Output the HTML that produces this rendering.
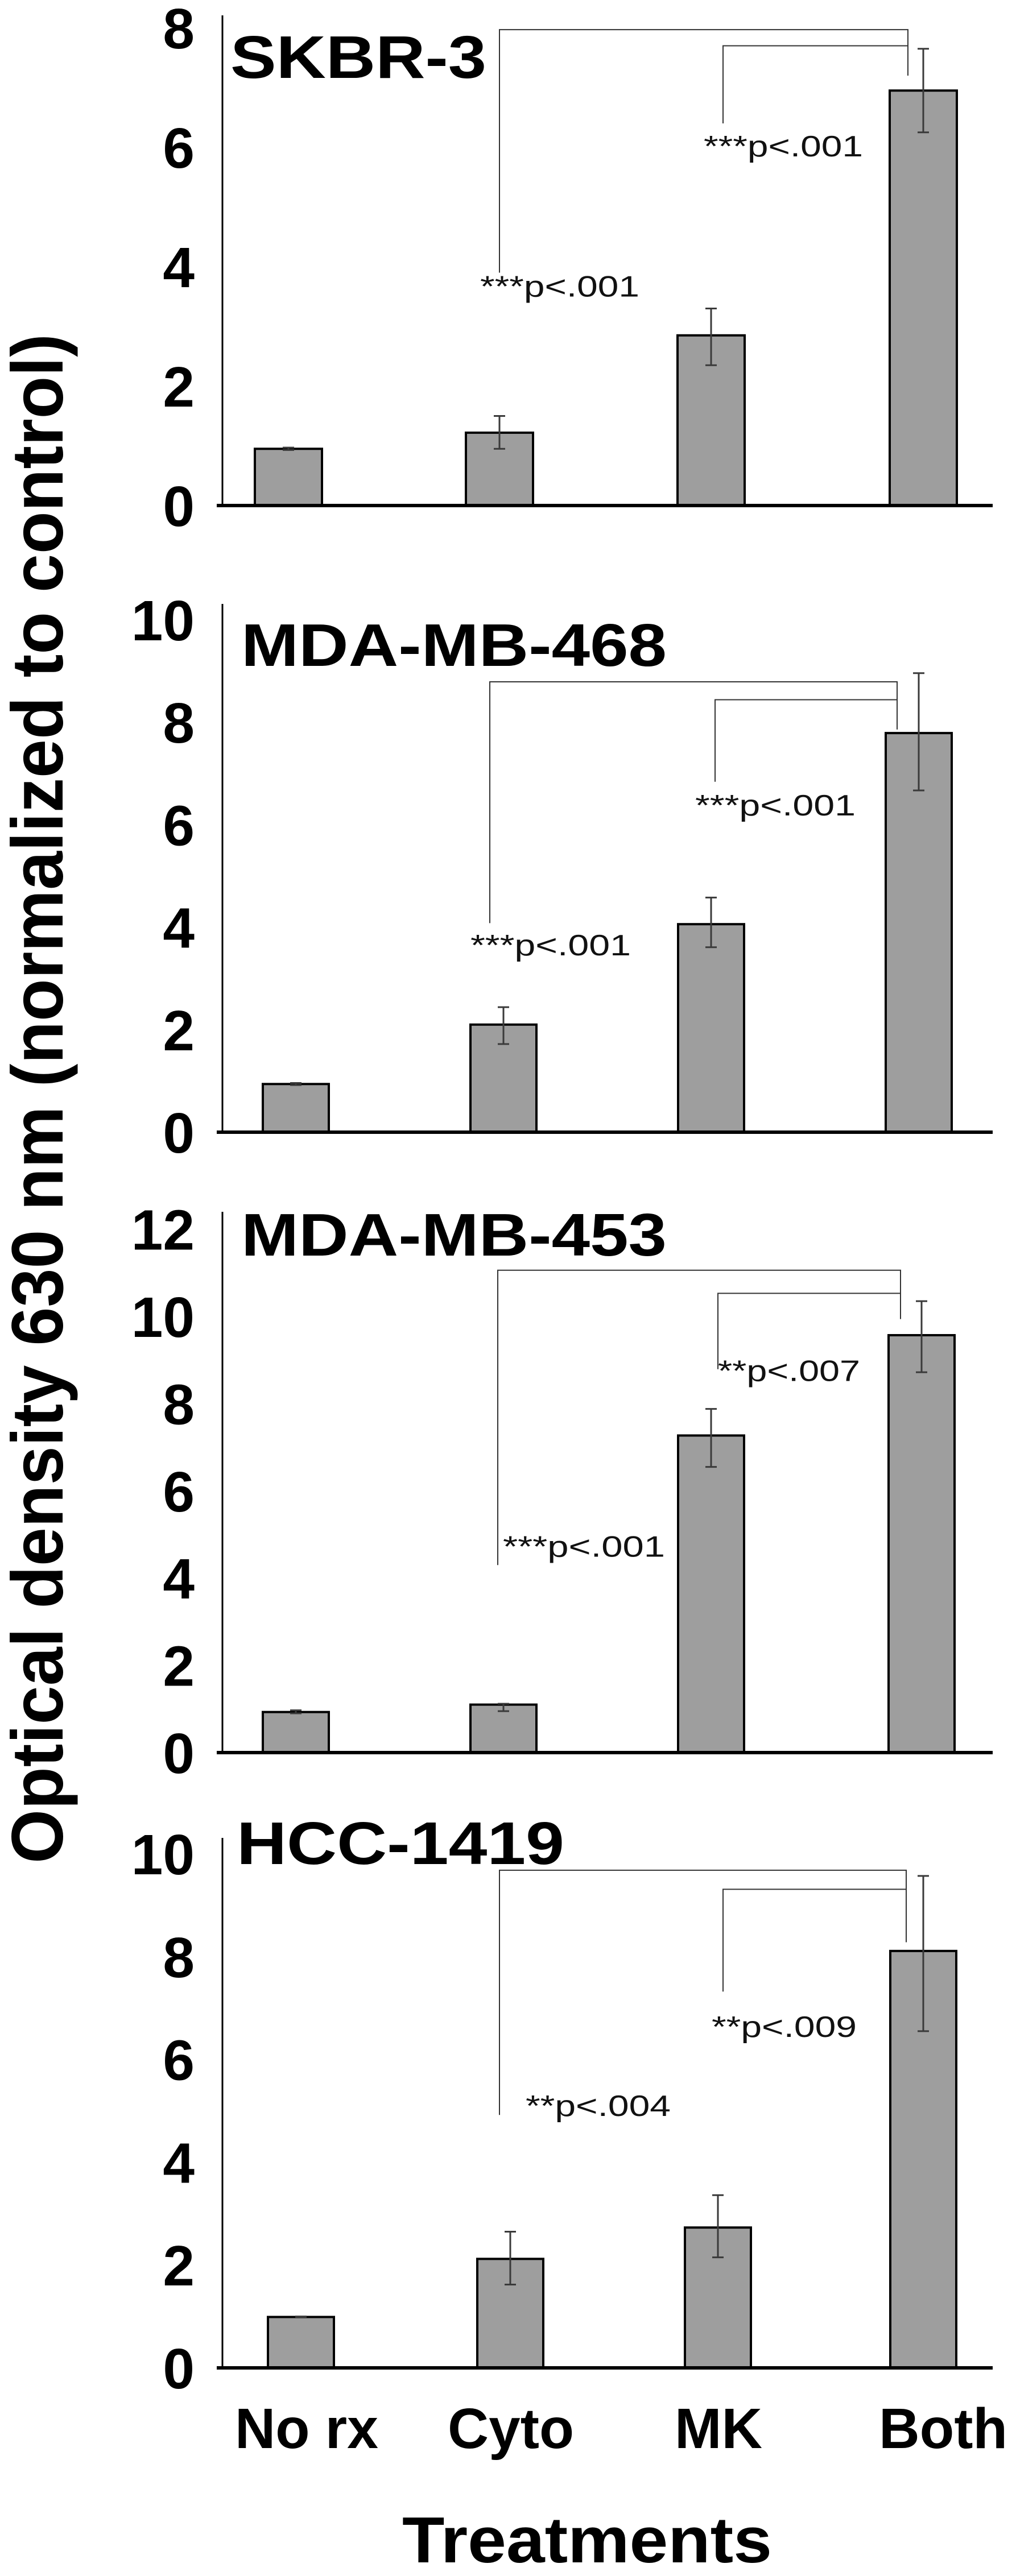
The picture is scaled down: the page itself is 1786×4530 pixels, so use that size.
<!DOCTYPE html>
<html><head><meta charset="utf-8">
<style>
html,body{margin:0;padding:0;background:#fff;}
svg{display:block;}
text{font-family:"Liberation Sans",Arial,sans-serif;}
</style></head>
<body>
<svg id="fig" width="1786" height="4530" viewBox="0 0 1786 4530" xmlns="http://www.w3.org/2000/svg">
<text transform="translate(110,1932) rotate(-90)" text-anchor="middle" font-size="128" font-weight="bold" textLength="2690" lengthAdjust="spacingAndGlyphs">Optical density 630 nm (normalized to control)</text>
<text x="1032" y="4506" text-anchor="middle" font-size="114" font-weight="bold" textLength="650" lengthAdjust="spacingAndGlyphs">Treatments</text>
<text x="539" y="4305" text-anchor="middle" font-size="100" font-weight="bold" textLength="252" lengthAdjust="spacingAndGlyphs">No rx</text>
<text x="898" y="4305" text-anchor="middle" font-size="100" font-weight="bold" textLength="222" lengthAdjust="spacingAndGlyphs">Cyto</text>
<text x="1263" y="4305" text-anchor="middle" font-size="100" font-weight="bold" textLength="154" lengthAdjust="spacingAndGlyphs">MK</text>
<text x="1658" y="4305" text-anchor="middle" font-size="100" font-weight="bold" textLength="226" lengthAdjust="spacingAndGlyphs">Both</text>
</svg>
<script>
// Data
const categories = ["No rx", "Cyto", "MK", "Both"];
const panelNames = ["SKBR-3", "MDA-MB-468", "MDA-MB-453", "HCC-1419"];
const skbr3Means = [0.95, 1.22, 2.85, 6.95];
const skbr3Upper = [0.97, 1.5, 3.3, 7.65];
const skbr3Lower = [0.93, 0.95, 2.35, 6.25];
const mda468Means = [0.94, 2.1, 4.06, 7.79];
const mda468Upper = [0.96, 2.44, 4.58, 8.96];
const mda468Lower = [0.92, 1.72, 3.61, 6.67];
const mda453Means = [0.93, 1.1, 7.27, 9.57];
const mda453Upper = [0.97, 1.12, 7.88, 10.35];
const mda453Lower = [0.9, 0.95, 6.55, 8.72];
const hccMeans = [0.99, 2.12, 2.73, 8.11];
const hccUpper = [1.0, 2.65, 3.36, 9.57];
const hccLower = [0.98, 1.62, 2.15, 6.55];
const skbr3Ticks = [0, 2, 4, 6, 8];
const mda468Ticks = [0, 2, 4, 6, 8, 10];
const mda453Ticks = [0, 2, 4, 6, 8, 10, 12];
const hccTicks = [0, 2, 4, 6, 8, 10];
const skbr3PValues = ["***p<.001", "***p<.001"];
const mda468PValues = ["***p<.001", "***p<.001"];
const mda453PValues = ["***p<.001", "**p<.007"];
const hccPValues = ["**p<.004", "**p<.009"];

// Layout (pixels)
const NS = "http://www.w3.org/2000/svg";
const svg = document.getElementById("fig");
const panels = [
  {slug:"skbr3", name:panelNames[0], means:skbr3Means, up:skbr3Upper, lo:skbr3Lower, ticks:skbr3Ticks, pv:skbr3PValues,
   base:889, ppu:105, top:27, xs:[507,878,1250,1623], bw:118, titleX:405, titleY:137, titleW:450,
   br:{longY:7.97, longL:3.9, longR:7.2, shortY:7.7, shortL:6.4, lx:878, sx:1271, rx:1596},
   txt:[{x:844,v:3.5,w:280},{x:1237,v:5.85,w:280}]},
  {slug:"mda468", name:panelNames[1], means:mda468Means, up:mda468Upper, lo:mda468Lower, ticks:mda468Ticks, pv:mda468PValues,
   base:1991, ppu:90.1, top:1062, xs:[520,885,1250,1615], bw:116, titleX:424, titleY:1171, titleW:748,
   br:{longY:8.79, longL:4.08, longR:7.86, shortY:8.44, shortL:6.84, lx:861, sx:1257, rx:1577},
   txt:[{x:827,v:3.45,w:282},{x:1222,v:6.18,w:282}]},
  {slug:"mda453", name:panelNames[2], means:mda453Means, up:mda453Upper, lo:mda453Lower, ticks:mda453Ticks, pv:mda453PValues,
   base:3082, ppu:76.7, top:2131, xs:[520,885,1250,1620], bw:116, titleX:424, titleY:2208, titleW:748,
   br:{longY:11.06, longL:4.3, longR:9.94, shortY:10.53, shortL:8.79, lx:875, sx:1262, rx:1583},
   txt:[{x:884,v:4.49,w:285},{x:1262,v:8.52,w:250}]},
  {slug:"hcc1419", name:panelNames[3], means:hccMeans, up:hccUpper, lo:hccLower, ticks:hccTicks, pv:hccPValues,
   base:4164, ppu:90.4, top:3232, xs:[529,897,1262,1623], bw:116, titleX:416, titleY:3278, titleW:576,
   br:{longY:9.68, longL:4.92, longR:8.28, shortY:9.31, shortL:7.32, lx:878, sx:1271, rx:1593},
   txt:[{x:924,v:4.9,w:255},{x:1251,v:6.44,w:255}]}
];
const AXIS_X = 391, AXIS_END = 1745;

function mk(tag, attrs){ const e=document.createElementNS(NS,tag); for(const k in attrs) e.setAttribute(k,attrs[k]); return e; }

panels.forEach(p => {
  const y = v => p.base - v * p.ppu;
  const g = mk("g", {});
  
  
  svg.appendChild(g);

  // bars
  p.means.forEach((m, i) => {
    const r = mk("rect", {x:p.xs[i]-p.bw/2, y:y(m), width:p.bw, height:p.base-y(m), fill:"#9e9e9e", stroke:"#000", "stroke-width":4});
    
    
    g.appendChild(r);
    const eb = mk("path", {d:`M${p.xs[i]-10},${y(p.up[i])}H${p.xs[i]+10}M${p.xs[i]},${y(p.up[i])}V${y(p.lo[i])}M${p.xs[i]-10},${y(p.lo[i])}H${p.xs[i]+10}`, stroke:"#3a3a3a", "stroke-width":3, fill:"none"});
    
    
    g.appendChild(eb);
  });

  // axes
  const ya = mk("line", {x1:AXIS_X, y1:p.top, x2:AXIS_X, y2:p.base, stroke:"#000", "stroke-width":3});
  
  
  g.appendChild(ya);
  const xa = mk("line", {x1:AXIS_X-10, y1:p.base, x2:AXIS_END, y2:p.base, stroke:"#000", "stroke-width":6});
  
  
  g.appendChild(xa);

  // tick labels
  p.ticks.forEach(t => {
    const tl = mk("text", {x:342, y:y(t)+36, "text-anchor":"end", "font-size":100, "font-weight":"bold"});
    
    
    tl.textContent = t;
    g.appendChild(tl);
  });

  // title
  const ti = mk("text", {x:p.titleX, y:p.titleY, "font-size":106, "font-weight":"bold", textLength:p.titleW, lengthAdjust:"spacingAndGlyphs"});
  
  
  ti.textContent = p.name;
  g.appendChild(ti);

  // brackets
  const b = p.br;
  const lb = mk("path", {d:`M${b.lx},${y(b.longL)}V${y(b.longY)}H${b.rx}V${y(b.longR)}`, stroke:"#333", "stroke-width":2, fill:"none"});
  
  
  g.appendChild(lb);
  const sb = mk("path", {d:`M${b.sx},${y(b.shortL)}V${y(b.shortY)}H${b.rx}`, stroke:"#333", "stroke-width":2, fill:"none"});
  
  
  g.appendChild(sb);

  // p-value labels
  p.txt.forEach((t, k) => {
    const tx = mk("text", {x:t.x, y:y(t.v), "font-size":52, textLength:t.w, lengthAdjust:"spacingAndGlyphs", fill:"#111"});
    
    
    tx.textContent = p.pv[k];
    g.appendChild(tx);
  });
});
</script>
</body></html>
